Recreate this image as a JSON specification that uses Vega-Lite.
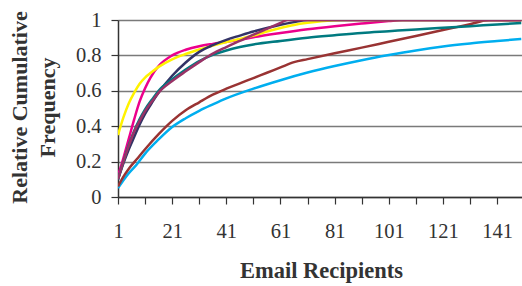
{
  "$schema": "https://vega.github.io/schema/vega-lite/v6.json",
  "autosize": {"type": "none"},
  "padding": {"left": 118, "top": 20, "right": 0, "bottom": 89},
  "width": 403.5,
  "height": 177,
  "background": "white",
  "config": {
    "view": {"stroke": null},
    "font": "Liberation Serif"
  },
  "datasets": {
    "series": [
      {"s": "Series 1", "x": 1, "y": 0.05}, {"s": "Series 1", "x": 3, "y": 0.095}, {"s": "Series 1", "x": 5, "y": 0.135}, {"s": "Series 1", "x": 8, "y": 0.185}, {"s": "Series 1", "x": 11, "y": 0.245}, {"s": "Series 1", "x": 16, "y": 0.325}, {"s": "Series 1", "x": 21, "y": 0.395}, {"s": "Series 1", "x": 26, "y": 0.445}, {"s": "Series 1", "x": 31, "y": 0.487}, {"s": "Series 1", "x": 36, "y": 0.523}, {"s": "Series 1", "x": 41, "y": 0.557}, {"s": "Series 1", "x": 51, "y": 0.612}, {"s": "Series 1", "x": 61, "y": 0.66}, {"s": "Series 1", "x": 71, "y": 0.703}, {"s": "Series 1", "x": 81, "y": 0.74}, {"s": "Series 1", "x": 91, "y": 0.773}, {"s": "Series 1", "x": 101, "y": 0.802}, {"s": "Series 1", "x": 111, "y": 0.828}, {"s": "Series 1", "x": 121, "y": 0.85}, {"s": "Series 1", "x": 131, "y": 0.867}, {"s": "Series 1", "x": 141, "y": 0.881}, {"s": "Series 1", "x": 150, "y": 0.893},

      {"s": "Series 2", "x": 1, "y": 0.06}, {"s": "Series 2", "x": 3, "y": 0.115}, {"s": "Series 2", "x": 5, "y": 0.16}, {"s": "Series 2", "x": 8, "y": 0.215}, {"s": "Series 2", "x": 11, "y": 0.27}, {"s": "Series 2", "x": 16, "y": 0.355}, {"s": "Series 2", "x": 21, "y": 0.43}, {"s": "Series 2", "x": 26, "y": 0.49}, {"s": "Series 2", "x": 31, "y": 0.535}, {"s": "Series 2", "x": 36, "y": 0.578}, {"s": "Series 2", "x": 41, "y": 0.612}, {"s": "Series 2", "x": 46, "y": 0.642}, {"s": "Series 2", "x": 51, "y": 0.672}, {"s": "Series 2", "x": 56, "y": 0.702}, {"s": "Series 2", "x": 61, "y": 0.732}, {"s": "Series 2", "x": 66, "y": 0.762}, {"s": "Series 2", "x": 71, "y": 0.779}, {"s": "Series 2", "x": 81, "y": 0.812}, {"s": "Series 2", "x": 91, "y": 0.844}, {"s": "Series 2", "x": 101, "y": 0.877}, {"s": "Series 2", "x": 111, "y": 0.91}, {"s": "Series 2", "x": 121, "y": 0.943}, {"s": "Series 2", "x": 131, "y": 0.976}, {"s": "Series 2", "x": 138, "y": 1}, {"s": "Series 2", "x": 150, "y": 1},

      {"s": "Series 3", "x": 1, "y": 0.12}, {"s": "Series 3", "x": 3, "y": 0.22}, {"s": "Series 3", "x": 5, "y": 0.33}, {"s": "Series 3", "x": 7, "y": 0.44}, {"s": "Series 3", "x": 9, "y": 0.54}, {"s": "Series 3", "x": 11, "y": 0.615}, {"s": "Series 3", "x": 13, "y": 0.675}, {"s": "Series 3", "x": 16, "y": 0.74}, {"s": "Series 3", "x": 21, "y": 0.8}, {"s": "Series 3", "x": 26, "y": 0.832}, {"s": "Series 3", "x": 31, "y": 0.852}, {"s": "Series 3", "x": 36, "y": 0.865}, {"s": "Series 3", "x": 41, "y": 0.876}, {"s": "Series 3", "x": 46, "y": 0.888}, {"s": "Series 3", "x": 51, "y": 0.903}, {"s": "Series 3", "x": 61, "y": 0.927}, {"s": "Series 3", "x": 71, "y": 0.948}, {"s": "Series 3", "x": 81, "y": 0.965}, {"s": "Series 3", "x": 91, "y": 0.98}, {"s": "Series 3", "x": 101, "y": 0.994}, {"s": "Series 3", "x": 106, "y": 1}, {"s": "Series 3", "x": 150, "y": 1},

      {"s": "Series 4", "x": 1, "y": 0.35}, {"s": "Series 4", "x": 3, "y": 0.45}, {"s": "Series 4", "x": 5, "y": 0.53}, {"s": "Series 4", "x": 7, "y": 0.59}, {"s": "Series 4", "x": 9, "y": 0.64}, {"s": "Series 4", "x": 11, "y": 0.675}, {"s": "Series 4", "x": 13, "y": 0.7}, {"s": "Series 4", "x": 16, "y": 0.735}, {"s": "Series 4", "x": 21, "y": 0.778}, {"s": "Series 4", "x": 26, "y": 0.808}, {"s": "Series 4", "x": 31, "y": 0.833}, {"s": "Series 4", "x": 36, "y": 0.855}, {"s": "Series 4", "x": 41, "y": 0.875}, {"s": "Series 4", "x": 46, "y": 0.893}, {"s": "Series 4", "x": 51, "y": 0.912}, {"s": "Series 4", "x": 56, "y": 0.935}, {"s": "Series 4", "x": 61, "y": 0.955}, {"s": "Series 4", "x": 66, "y": 0.972}, {"s": "Series 4", "x": 71, "y": 0.984}, {"s": "Series 4", "x": 76, "y": 0.993}, {"s": "Series 4", "x": 81, "y": 0.998}, {"s": "Series 4", "x": 85, "y": 1}, {"s": "Series 4", "x": 150, "y": 1},

      {"s": "Series 5", "x": 1, "y": 0.1}, {"s": "Series 5", "x": 3, "y": 0.19}, {"s": "Series 5", "x": 5, "y": 0.27}, {"s": "Series 5", "x": 7, "y": 0.34}, {"s": "Series 5", "x": 9, "y": 0.41}, {"s": "Series 5", "x": 11, "y": 0.47}, {"s": "Series 5", "x": 13, "y": 0.52}, {"s": "Series 5", "x": 16, "y": 0.59}, {"s": "Series 5", "x": 21, "y": 0.685}, {"s": "Series 5", "x": 26, "y": 0.76}, {"s": "Series 5", "x": 31, "y": 0.82}, {"s": "Series 5", "x": 36, "y": 0.858}, {"s": "Series 5", "x": 41, "y": 0.888}, {"s": "Series 5", "x": 46, "y": 0.912}, {"s": "Series 5", "x": 51, "y": 0.935}, {"s": "Series 5", "x": 56, "y": 0.955}, {"s": "Series 5", "x": 61, "y": 0.973}, {"s": "Series 5", "x": 66, "y": 0.988}, {"s": "Series 5", "x": 71, "y": 1}, {"s": "Series 5", "x": 150, "y": 1},

      {"s": "Series 6", "x": 1, "y": 0.1}, {"s": "Series 6", "x": 3, "y": 0.2}, {"s": "Series 6", "x": 5, "y": 0.295}, {"s": "Series 6", "x": 7, "y": 0.375}, {"s": "Series 6", "x": 9, "y": 0.44}, {"s": "Series 6", "x": 11, "y": 0.495}, {"s": "Series 6", "x": 14, "y": 0.56}, {"s": "Series 6", "x": 16, "y": 0.6}, {"s": "Series 6", "x": 21, "y": 0.665}, {"s": "Series 6", "x": 26, "y": 0.72}, {"s": "Series 6", "x": 31, "y": 0.768}, {"s": "Series 6", "x": 36, "y": 0.803}, {"s": "Series 6", "x": 41, "y": 0.828}, {"s": "Series 6", "x": 46, "y": 0.847}, {"s": "Series 6", "x": 51, "y": 0.862}, {"s": "Series 6", "x": 61, "y": 0.882}, {"s": "Series 6", "x": 71, "y": 0.9}, {"s": "Series 6", "x": 81, "y": 0.914}, {"s": "Series 6", "x": 91, "y": 0.927}, {"s": "Series 6", "x": 101, "y": 0.937}, {"s": "Series 6", "x": 111, "y": 0.947}, {"s": "Series 6", "x": 121, "y": 0.956}, {"s": "Series 6", "x": 131, "y": 0.965}, {"s": "Series 6", "x": 141, "y": 0.975}, {"s": "Series 6", "x": 150, "y": 0.983},

      {"s": "Series 7", "x": 1, "y": 0.1}, {"s": "Series 7", "x": 3, "y": 0.2}, {"s": "Series 7", "x": 5, "y": 0.29}, {"s": "Series 7", "x": 7, "y": 0.37}, {"s": "Series 7", "x": 9, "y": 0.43}, {"s": "Series 7", "x": 11, "y": 0.485}, {"s": "Series 7", "x": 14, "y": 0.55}, {"s": "Series 7", "x": 16, "y": 0.59}, {"s": "Series 7", "x": 21, "y": 0.655}, {"s": "Series 7", "x": 26, "y": 0.71}, {"s": "Series 7", "x": 31, "y": 0.762}, {"s": "Series 7", "x": 36, "y": 0.81}, {"s": "Series 7", "x": 41, "y": 0.847}, {"s": "Series 7", "x": 46, "y": 0.882}, {"s": "Series 7", "x": 51, "y": 0.917}, {"s": "Series 7", "x": 56, "y": 0.95}, {"s": "Series 7", "x": 61, "y": 0.983}, {"s": "Series 7", "x": 63.5, "y": 1}, {"s": "Series 7", "x": 150, "y": 1}
    ]
  },
  "data": {"name": "series"},
  "mark": {"type": "line", "strokeWidth": 2.5, "interpolate": "monotone", "clip": true},
  "encoding": {
    "x": {
      "field": "x", "type": "quantitative",
      "scale": {"domain": [1, 150], "nice": false, "zero": false},
      "axis": {
        "values": [1, 11, 21, 31, 41, 51, 61, 71, 81, 91, 101, 111, 121, 131, 141],
        "labelExpr": "(datum.value - 1) % 20 == 0 ? datum.label : ''",
        "grid": false,
        "domainColor": "#333333", "domainWidth": 1.5,
        "tickColor": "#333333", "tickWidth": 1.2, "tickSize": 7,
        "labelFont": "Liberation Serif", "labelFontSize": 20.5, "labelColor": "#333333",
        "labelPadding": 17, "labelFlush": false, "labelOverlap": false,
        "title": "Email Recipients",
        "titleFont": "Liberation Serif", "titleFontSize": 22.5, "titleFontWeight": "bold", "titleColor": "#333333",
        "titleX": 203, "titleY": 80, "titleBaseline": "alphabetic", "titleAlign": "center", "titleAnchor": null
      }
    },
    "y": {
      "field": "y", "type": "quantitative",
      "scale": {"domain": [0, 1], "nice": false},
      "axis": {
        "values": [0, 0.2, 0.4, 0.6, 0.8, 1],
        "format": "~g",
        "grid": true, "gridColor": "#7a7a7a", "gridWidth": 1.5,
        "domainColor": "#333333", "domainWidth": 1.5,
        "tickColor": "#333333", "tickWidth": 1.2, "tickSize": 7,
        "labelFont": "Liberation Serif", "labelFontSize": 20.5, "labelColor": "#333333",
        "labelPadding": 10, "labelFlush": false,
        "title": ["Relative Cumulative", "Frequency"],
        "titleFont": "Liberation Serif", "titleFontSize": 22, "titleFontWeight": "bold", "titleColor": "#333333",
        "titleLineHeight": 28,
        "titleAngle": -90, "titleX": -92, "titleY": 87, "titleBaseline": "alphabetic", "titleAlign": "center", "titleAnchor": null
      }
    },
    "color": {
      "field": "s", "type": "nominal",
      "scale": {
        "domain": ["Series 1", "Series 2", "Series 3", "Series 4", "Series 5", "Series 6", "Series 7"],
        "range": ["#00AEEF", "#993333", "#EC008C", "#FFF200", "#333366", "#007A80", "#993366"]
      },
      "legend": null
    }
  }
}
